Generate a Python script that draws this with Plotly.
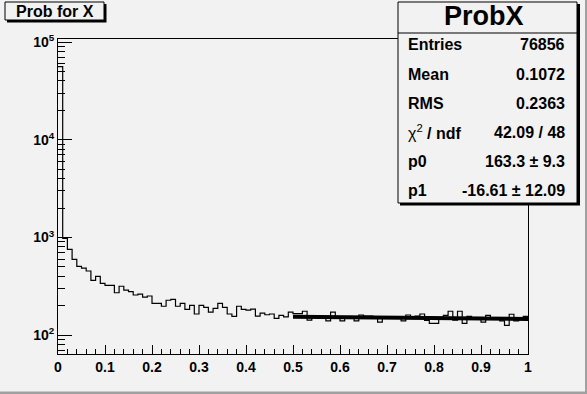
import numpy as np
import plotly.graph_objects as go

# ---------------- data ----------------
bin_lo, bin_hi, n_bins = 0.0, 1.0, 100
counts = [
    56000, 981, 757, 598, 507, 487, 454, 365, 401, 340,
    324, 324, 272, 317, 290, 279, 258, 264, 246, 252,
    212, 212, 198, 228, 233, 198, 212, 184, 202, 165,
    202, 193, 172, 188, 212, 193, 165, 156, 198, 184,
    181, 185, 157, 168, 162, 165, 149, 160, 154, 172,
    166, 166, 176, 143, 152, 153, 154, 140, 172, 153,
    140, 151, 152, 140, 161, 157, 157, 151, 136, 150,
    151, 150, 152, 140, 161, 150, 157, 165, 142, 132,
    132, 148, 160, 176, 143, 176, 132, 156, 148, 149,
    136, 160, 147, 147, 140, 126, 164, 140, 146, 156,
]
fit_range = [0.5, 1.0]
p0, p1 = 163.3, -16.61

title_text = "Prob for X"
stats_title = "ProbX"
stats_labels = ["<b>Entries</b>", "<b>Mean</b>", "<b>RMS</b>", "χ<sup>2</sup><b> / ndf</b>", "<b>p0</b>", "<b>p1</b>"]
stats_values = ["76856", "0.1072", "0.2363", "42.09 / 48", "163.3 ± 9.3", "-16.61 ± 12.09"]

x_tick_vals = [0, 0.1, 0.2, 0.3, 0.4, 0.5, 0.6, 0.7, 0.8, 0.9, 1]
x_tick_text = ["0", "0.1", "0.2", "0.3", "0.4", "0.5", "0.6", "0.7", "0.8", "0.9", "1"]
y_tick_vals = [1e2, 1e3, 1e4, 1e5]
y_tick_text = ["10<sup>2</sup>", "10<sup>3</sup>", "10<sup>4</sup>", "10<sup>5</sup>"]

# ---------------- layout geometry ----------------
W, H = 587, 394
ML, MR, MT, MB = 58, 59, 39, 40
PW, PH = W - ML - MR, H - MT - MB
BG = "#f2f2f2"
FONT = "Liberation Sans, Arial, Helvetica, sans-serif"


def px(xp):
    return (xp - ML) / PW


def py(yp):
    return (H - MB - yp) / PH


edges = np.linspace(bin_lo, bin_hi, n_bins + 1)
step_y = list(counts) + [counts[-1]]

fig = go.Figure()
fig.add_trace(go.Scatter(
    x=edges, y=step_y, mode="lines", line=dict(shape="hv", color="black", width=1.2),
    showlegend=False, hoverinfo="skip"))
fx = np.array(fit_range)
fig.add_trace(go.Scatter(
    x=fx, y=p0 + p1 * fx, mode="lines", line=dict(color="black", width=4),
    showlegend=False, hoverinfo="skip"))

minor_y = [m * 10 ** e for e in range(1, 6) for m in range(2, 10)]

fig.update_layout(
    width=W, height=H,
    margin=dict(l=ML, r=MR, t=MT, b=MB, pad=0),
    paper_bgcolor=BG, plot_bgcolor=BG,
    showlegend=False,
    xaxis=dict(
        range=[0, 1], showgrid=False, zeroline=False,
        showline=True, linecolor="black", linewidth=1, mirror=True,
        ticks="inside", ticklen=9, tickcolor="black", tickwidth=1,
        tickmode="array", tickvals=x_tick_vals, ticktext=x_tick_text,
        tickfont=dict(family=FONT, size=14, color="black", weight="bold"),
        minor=dict(ticks="inside", ticklen=5, tickcolor="black", dtick=0.02, tick0=0, showgrid=False),
    ),
    yaxis=dict(
        type="log", range=[1.808, 5.031], showgrid=False, zeroline=False,
        showline=True, linecolor="black", linewidth=1, mirror=True,
        ticks="inside", ticklen=14, tickcolor="black", tickwidth=1,
        tickmode="array", tickvals=y_tick_vals, ticktext=y_tick_text,
        tickfont=dict(family=FONT, size=14, color="black", weight="bold"),
        minor=dict(ticks="inside", ticklen=7, tickcolor="black", tickmode="array",
                   tickvals=minor_y, showgrid=False),
    ),
)

shapes = []
# outer canvas border (right & bottom)
shapes.append(dict(type="rect", xref="paper", yref="paper", x0=px(585), x1=px(587), y0=py(0), y1=py(394),
                   line=dict(width=0), fillcolor="#a0a0a0", layer="above"))
shapes.append(dict(type="rect", xref="paper", yref="paper", x0=px(0), x1=px(587), y0=py(391.5), y1=py(394),
                   line=dict(width=0), fillcolor="#a0a0a0", layer="above"))
# title box with shadow
shapes.append(dict(type="rect", xref="paper", yref="paper", x0=px(7), x1=px(106.5), y0=py(4), y1=py(22.5),
                   line=dict(width=0), fillcolor="black", layer="above"))
shapes.append(dict(type="rect", xref="paper", yref="paper", x0=px(5), x1=px(104), y0=py(2), y1=py(20),
                   line=dict(width=1, color="black"), fillcolor=BG, layer="above"))
# stats box with shadow
shapes.append(dict(type="rect", xref="paper", yref="paper", x0=px(400), x1=px(580), y0=py(4), y1=py(205.5),
                   line=dict(width=0), fillcolor="black", layer="above"))
shapes.append(dict(type="rect", xref="paper", yref="paper", x0=px(398), x1=px(577), y0=py(2), y1=py(203),
                   line=dict(width=1, color="black"), fillcolor=BG, layer="above"))
shapes.append(dict(type="line", xref="paper", yref="paper", x0=px(398), x1=px(577), y0=py(33), y1=py(33),
                   line=dict(width=1, color="black"), layer="above"))
fig.update_layout(shapes=shapes)

ann = []
ann.append(dict(xref="paper", yref="paper", x=px(54.5), y=py(11.5), text=title_text, showarrow=False,
                xanchor="center", yanchor="middle",
                font=dict(family=FONT, size=16, color="black", weight="bold")))
ann.append(dict(xref="paper", yref="paper", x=px(484), y=py(16), text=stats_title, showarrow=False,
                xanchor="center", yanchor="middle",
                font=dict(family=FONT, size=27, color="black", weight="bold")))
row_y = [44.5, 74, 103.5, 132, 161.5, 190.5]
for lab, val, yy in zip(stats_labels, stats_values, row_y):
    ann.append(dict(xref="paper", yref="paper", x=px(406), y=py(yy), text=lab, showarrow=False,
                    xanchor="left", yanchor="middle",
                    font=dict(family=FONT, size=16, color="black")))
    ann.append(dict(xref="paper", yref="paper", x=px(567), y=py(yy), text=val, showarrow=False,
                    xanchor="right", yanchor="middle",
                    font=dict(family=FONT, size=16, color="black", weight="bold")))
fig.update_layout(annotations=ann)

fig.write_html("out.html", config={"displayModeBar": False},
               post_script="document.body.style.margin='0';document.body.style.padding='0';")
